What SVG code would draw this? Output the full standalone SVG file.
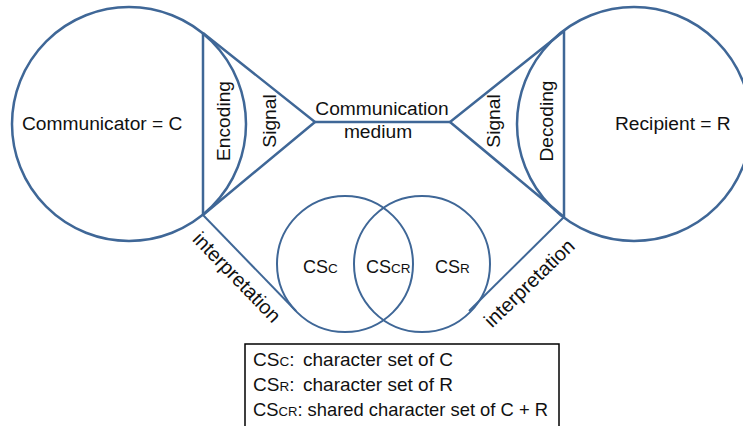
<svg xmlns="http://www.w3.org/2000/svg" width="743" height="426" viewBox="0 0 743 426">
  <style>
    .ln { fill: none; stroke: #3F6797; stroke-width: 2.5; }
    .thin { fill: none; stroke: #3F6797; stroke-width: 2; }
    .t { font-family: "Liberation Sans", Arial, sans-serif; font-size: 19.2px; fill: #111; }
    .cs { font-family: "Liberation Sans", Arial, sans-serif; font-size: 18px; fill: #111; }
    .sub { font-size: 13.5px; }
    .lg { font-family: "Liberation Sans", Arial, sans-serif; font-size: 19px; fill: #111; }
    .box { fill: #fff; stroke: #000; stroke-width: 1.5; }
  </style>

  <!-- communicator: circle with encoding chord -->
  <g id="communicator">
    <circle class="ln" cx="129" cy="124" r="117"/>
    <line class="ln" x1="203" y1="33" x2="203" y2="215"/>
    <text class="t" x="22" y="130">Communicator = C</text>
    <text class="t" text-anchor="middle" transform="translate(230,121) rotate(-90)">Encoding</text>
  </g>

  <!-- recipient: circle with decoding chord -->
  <g id="recipient">
    <circle class="ln" cx="634" cy="124" r="117"/>
    <line class="ln" x1="564" y1="31" x2="564" y2="217"/>
    <text class="t" x="615" y="130">Recipient = R</text>
    <text class="t" text-anchor="middle" transform="translate(553,121) rotate(-90)">Decoding</text>
  </g>

  <!-- signal wedges and medium -->
  <g id="signal-left">
    <text class="t" text-anchor="middle" transform="translate(276,121) rotate(-90)">Signal</text>
  </g>
  <g id="signal-right">
    <text class="t" text-anchor="middle" transform="translate(500,121) rotate(-90)">Signal</text>
  </g>
  <g id="medium">
    <text class="t" text-anchor="middle" x="382" y="115">Communication</text>
    <text class="t" text-anchor="middle" x="378" y="138">medium</text>
  </g>

  <!-- character sets -->
  <g id="cs-c">
    <circle class="thin" cx="345" cy="264" r="68"/>
    <text class="cs" x="303" y="273">CS<tspan class="sub">C</tspan></text>
  </g>
  <g id="cs-r">
    <circle class="thin" cx="422" cy="264" r="68"/>
    <text class="cs" x="435" y="273">CS<tspan class="sub">R</tspan></text>
  </g>
  <g id="cs-cr">
    <text class="cs" x="366" y="273">CS<tspan class="sub">CR</tspan></text>
  </g>

  <!-- connectors -->
  <g id="connectors">
    <polyline class="ln" points="203,33 315,122 203,215"/>
    <polyline class="ln" points="564,31 450,122 564,217"/>
    <line class="ln" x1="315" y1="122" x2="450" y2="122"/>
    <line class="thin" x1="203" y1="215" x2="296" y2="311"/>
    <line class="thin" x1="564" y1="217" x2="469" y2="311"/>
    <text class="t" style="font-size:20px" text-anchor="middle" transform="translate(232,282) rotate(46)">interpretation</text>
    <text class="t" style="font-size:20px" text-anchor="middle" transform="translate(534,288) rotate(-44)">interpretation</text>
  </g>

  <!-- legend -->
  <g id="legend">
    <rect class="box" x="245" y="344" width="314" height="84"/>
    <text class="lg" x="253" y="366">CS<tspan class="sub">C</tspan>:</text>
    <text class="lg" x="303" y="366">character set of C</text>
    <text class="lg" x="253" y="391">CS<tspan class="sub">R</tspan>:</text>
    <text class="lg" x="303" y="391">character set of R</text>
    <text class="lg" x="253" y="416" textLength="295" lengthAdjust="spacingAndGlyphs">CS<tspan class="sub">CR</tspan>: shared character set of C + R</text>
  </g>
</svg>
